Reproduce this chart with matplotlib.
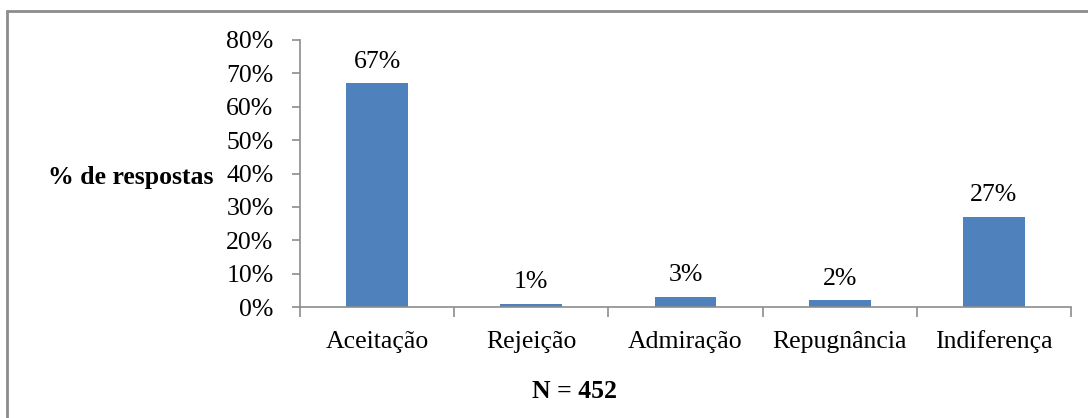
import matplotlib.pyplot as plt
from matplotlib.patches import Rectangle

# ── data ────────────────────────────────────────────────────────────────────
categories = ["Aceitação", "Rejeição", "Admiração", "Repugnância", "Indiferença"]
values     = [67, 1, 3, 2, 27]   # % de respostas
y_ticks    = [0, 10, 20, 30, 40, 50, 60, 70, 80]

BAR_COLOR  = "#4F81BD"
AXIS_COLOR = "#8C8C8C"
FS = 18.5

plt.rcParams["font.family"] = ["Liberation Serif", "DejaVu Serif"]

W, H = 1088, 418
fig = plt.figure(figsize=(W / 100, H / 100), dpi=100)

# axes placed in pixel terms: x 300..1071, y(0%)=307, y(80%)=40
ax = fig.add_axes([300 / W, 1 - 307 / H, (1071 - 300) / W, (307 - 40) / H])

x = list(range(len(categories)))
ax.bar(x, values, width=0.4, color=BAR_COLOR, zorder=2)

for xi, v in zip(x, values):
    ax.text(xi, v + 3.2, f"{v}%", ha="center", va="bottom", fontsize=FS)

ax.set_xlim(-0.5, len(categories) - 0.5)
ax.set_ylim(0, 80)
ax.set_yticks(y_ticks)
ax.set_yticklabels([f"{t}%" for t in y_ticks], fontsize=FS)

# category separators as x ticks
ax.set_xticks([i - 0.5 for i in range(len(categories) + 1)])
ax.set_xticklabels([])
ax.tick_params(axis="x", direction="out", length=7, color=AXIS_COLOR, width=1.2)
ax.tick_params(axis="y", direction="out", length=6, color=AXIS_COLOR, width=1.2, pad=13)
for xi, c in zip(x, categories):
    ax.text(xi, -12.3, c, ha="center", va="baseline", fontsize=FS)

for side in ["top", "right"]:
    ax.spines[side].set_visible(False)
for side in ["left", "bottom"]:
    ax.spines[side].set_color(AXIS_COLOR)
    ax.spines[side].set_linewidth(1.2)

ax.set_facecolor("none")

fig.text(213 / W, 1 - 177 / H, "% de respostas", ha="right", va="center",
         fontsize=FS, fontweight="bold")
fig.text(575 / W, 1 - 392 / H, "N = 452", ha="center", va="center",
         fontsize=FS, fontweight="bold")

# outer border (right/bottom fall outside the image)
fig.patches.append(Rectangle((7 / W, -0.1), 1.2, 1 - 11 / H + 0.1,
                             transform=fig.transFigure, fill=False,
                             edgecolor="#8C8C8C", linewidth=2))

fig.savefig("out.png", dpi=100)
